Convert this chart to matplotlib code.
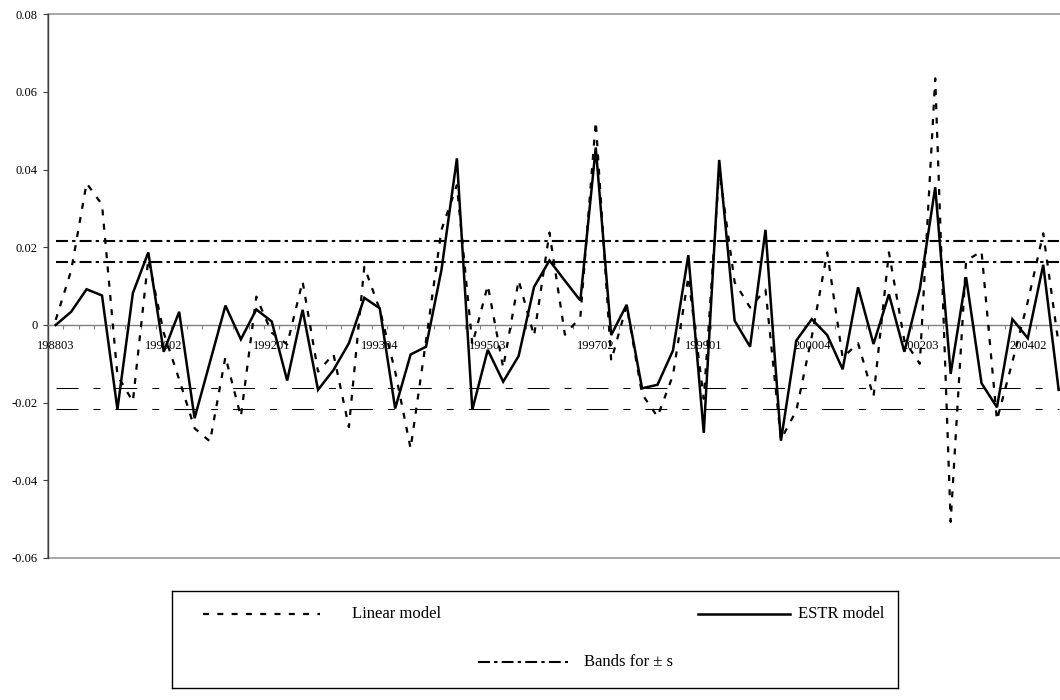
import matplotlib
matplotlib.use("Agg")
import matplotlib.pyplot as plt
from matplotlib.patches import Rectangle

# ---------------- data ----------------
quarters = [f"{y}{q:02d}" for y in range(1988, 2005) for q in range(1, 5)][2:68]  # 198803 .. 200404

linear_model = [
    0.0013, 0.0140, 0.0365, 0.0310, -0.0130, -0.0197, 0.0170, -0.0020, -0.0140, -0.0266,
    -0.0300, -0.0082, -0.0236, 0.0073, -0.0020, -0.0050, 0.0112, -0.0120, -0.0075, -0.0263,
    0.0150, 0.0040, -0.0120, -0.0318, -0.0040, 0.0245, 0.0360, -0.0050, 0.0102, -0.0110,
    0.0115, -0.0028, 0.0238, -0.0025, 0.0020, 0.0524, -0.0092, 0.0050, -0.0178, -0.0236,
    -0.0130, 0.0124, -0.0190, 0.0400, 0.0110, 0.0045, 0.0091, -0.0295, -0.0220, -0.0030,
    0.0187, -0.0084, -0.0047, -0.0185, 0.0187, -0.0040, -0.0100, 0.0635, -0.0507, 0.0165,
    0.0190, -0.0245, -0.0095, 0.0060, 0.0236, -0.0050,
]

estr_model = [
    0.0000, 0.0034, 0.0092, 0.0076, -0.0217, 0.0082, 0.0187, -0.0069, 0.0034, -0.0240,
    -0.0095, 0.0050, -0.0037, 0.0040, 0.0009, -0.0143, 0.0039, -0.0167, -0.0116, -0.0047,
    0.0070, 0.0043, -0.0215, -0.0076, -0.0056, 0.0142, 0.0429, -0.0218, -0.0064, -0.0146,
    -0.0080, 0.0098, 0.0166, 0.0114, 0.0063, 0.0457, -0.0026, 0.0052, -0.0163, -0.0154,
    -0.0066, 0.0180, -0.0278, 0.0425, 0.0011, -0.0056, 0.0245, -0.0298, -0.0040, 0.0015,
    -0.0026, -0.0114, 0.0097, -0.0049, 0.0079, -0.0069, 0.0092, 0.0355, -0.0126, 0.0123,
    -0.0150, -0.0212, 0.0015, -0.0034, 0.0155, -0.0167,
]

band_upper = [0.0217, 0.0163]
band_lower = [-0.0163, -0.0217]

x_label_text = ["198803", "199002", "199201", "199304", "199503",
                "199702", "199901", "200004", "200203", "200402"]
y_ticks = [-0.06, -0.04, -0.02, 0.0, 0.02, 0.04, 0.06, 0.08]
y_tick_labels = ["-0.06", "-0.04", "-0.02", "0", "0.02", "0.04", "0.06", "0.08"]

legend_labels = ["Linear model", "ESTR model", "Bands for \u00b1 s"]

# ---------------- figure ----------------
plt.rcParams["font.family"] = ["Liberation Serif", "DejaVu Serif"]
plt.rcParams["lines.scale_dashes"] = False

W, H = 1060, 700
fig = plt.figure(figsize=(W / 100, H / 100), dpi=100)

n = len(quarters)
cat_w = 15.43
ax_left, ax_top, ax_bottom = 48, 14.3, 558
ax = fig.add_axes([ax_left / W, (H - ax_bottom) / H, n * cat_w / W, (ax_bottom - ax_top) / H])
ax.set_xlim(-0.5, n - 0.5)
ax.set_ylim(-0.06, 0.08)

x = list(range(n))

dashdot = (0, (8.6, 3.0, 2.4, 3.0))
longdash = (0, (15.8, 10.8, 5.0, 10.8))
for v in band_upper:
    ax.plot(x, [v] * n, color="black", lw=1.5, linestyle=dashdot, zorder=2)
for v in band_lower:
    ax.plot(x, [v] * n, color="black", lw=0.75, linestyle=longdash, zorder=2)

dotted = (0, (4.3, 6.0))
ax.plot(x, linear_model, color="black", lw=1.6, linestyle=dotted, zorder=3)
ax.plot(x, estr_model, color="black", lw=1.8, solid_joinstyle="miter", zorder=4)

# spines / frame
for s in ["top", "right"]:
    ax.spines[s].set_visible(False)
ax.spines["bottom"].set_position(("data", 0))
ax.spines["bottom"].set_color("#808080")
ax.spines["bottom"].set_linewidth(1.0)
ax.spines["left"].set_color("#404040")
ax.spines["left"].set_linewidth(1.0)
ax.add_patch(Rectangle((0, 0), 1, 1, transform=ax.transAxes, fill=False,
                       edgecolor="#9a9a9a", lw=1.2, clip_on=False, zorder=1))

label_pos = [quarters.index(q) for q in x_label_text]
ax.set_xticks(label_pos)
ax.set_xticklabels(x_label_text, fontsize=9)
ax.set_xticks([i - 0.5 for i in range(n + 1)], minor=True)
ax.tick_params(axis="x", which="major", length=0, pad=11)
ax.tick_params(axis="x", which="minor", length=3.2, direction="out", color="#808080", width=0.8)

ax.set_yticks(y_ticks)
ax.set_yticklabels(y_tick_labels, fontsize=9)
ax.tick_params(axis="y", which="major", length=3.5, direction="out", color="#404040", width=0.8, pad=4)

# ---------------- legend ----------------
lx0, ly0, lx1, ly1 = 172, 591, 898, 688
lax = fig.add_axes([lx0 / W, (H - ly1) / H, (lx1 - lx0) / W, (ly1 - ly0) / H])
lax.set_xlim(lx0, lx1)
lax.set_ylim(ly1, ly0)
lax.set_xticks([])
lax.set_yticks([])
for s in lax.spines.values():
    s.set_color("black")
    s.set_linewidth(1.0)

r1, r2 = 614, 662
lax.plot([203, 320], [r1, r1], color="black", lw=1.6, linestyle=dotted)
lax.text(352, r1, legend_labels[0], fontsize=12, va="center", ha="left")
lax.plot([698, 790], [r1, r1], color="black", lw=1.8)
lax.text(798, r1, legend_labels[1], fontsize=12, va="center", ha="left")
lax.plot([478, 568], [r2, r2], color="black", lw=1.5, linestyle=dashdot)
lax.text(584, r2, legend_labels[2], fontsize=12, va="center", ha="left")

fig.savefig("out.png", dpi=100)
